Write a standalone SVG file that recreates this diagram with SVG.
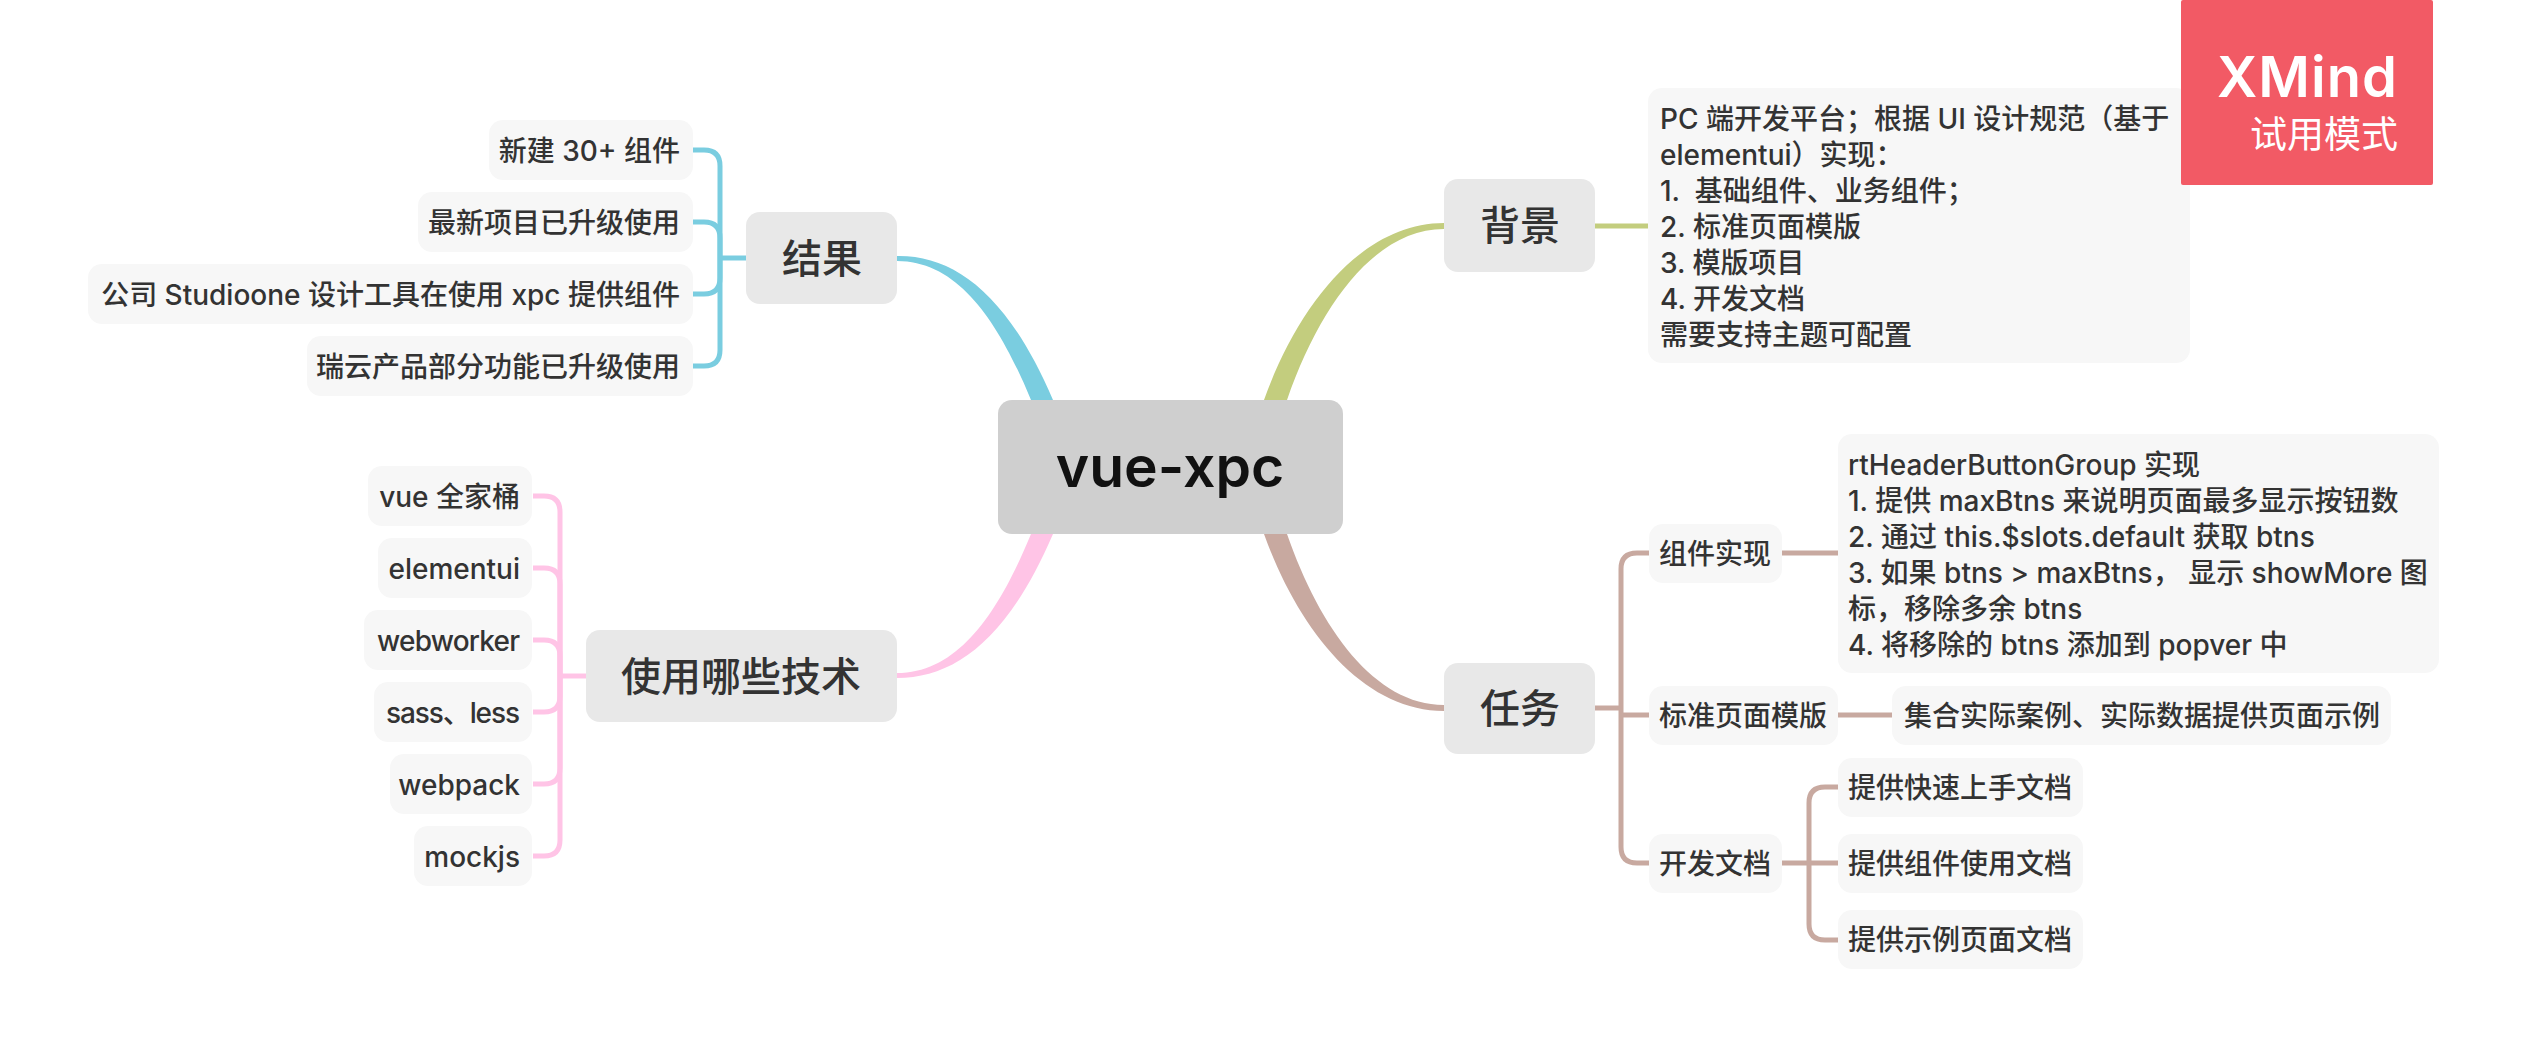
<svg xmlns="http://www.w3.org/2000/svg" width="2527" height="1057" viewBox="0 0 2527 1057">
<style>
text{font-family:"Inter","Noto Sans CJK SC",sans-serif;fill:#333;white-space:pre}
.s{font-size:28px;font-weight:500}
.m{font-size:40px;font-weight:500;text-anchor:middle}
.e{text-anchor:end}
.c{font-size:57px;font-weight:600;fill:#111;text-anchor:middle}
.bs{fill:#f7f7f7}
.bm{fill:#e8e8e8}
.l{fill:none;stroke-width:5}
.blue{stroke:#7acde0}.pink{stroke:#ffc4e6}.olive{stroke:#c3cd7e}.brown{stroke:#c8a9a0}
</style>
<g id="connectors">
<path fill="#7acde0" d="M897 256C955 255 1008 295 1053 400H1031C1000 325 960 261 897 261Z"/>
<path fill="#ffc4e6" d="M897 673C960 673 1000 609 1031 534H1053C1008 639 955 678 897 678Z"/>
<path fill="#c3cd7e" d="M1444 223C1365 223 1300 300 1264 400H1287C1320 305 1375 229 1444 229Z"/>
<path fill="#c8a9a0" d="M1444 711C1365 711 1300 634 1264 534H1287C1320 629 1375 705 1444 705Z"/>
<path class="l blue" stroke-width="6" d="M746 258H720"/>
<path class="l blue" d="M693 150H704Q720 150 720 166V350Q720 366 704 366H693"/>
<path class="l blue" d="M693 222H704Q720 222 720 238V278Q720 294 704 294H693"/>
<path class="l pink" d="M586 676H560"/>
<path class="l pink" d="M533 496H544Q560 496 560 512V840Q560 856 544 856H533"/>
<path class="l pink" d="M533 568H544Q560 568 560 584V768Q560 784 544 784H533"/>
<path class="l pink" d="M533 640H544Q560 640 560 656V696Q560 712 544 712H533"/>
<path class="l olive" stroke-width="6" d="M1595 226H1648"/>
<path class="l brown" d="M1595 708H1621"/>
<path class="l brown" d="M1649 553H1637Q1621 553 1621 569V847Q1621 863 1637 863H1649"/>
<path class="l brown" d="M1621 715H1649"/>
<path class="l brown" d="M1782 553H1838"/>
<path class="l brown" d="M1838 715H1892"/>
<path class="l brown" d="M1782 863H1838"/>
<path class="l brown" d="M1838 787H1825Q1809 787 1809 803V924Q1809 940 1825 940H1838"/>
</g>
<g id="center"><rect x="998" y="400" width="345" height="134" rx="14" fill="#cfcfcf"/><text class="c" x="1170" y="487">vue-xpc</text></g>
<g id="result"><rect class="bm" x="746" y="212" width="151" height="92" rx="14"/><text class="m" x="822" y="273">结果</text></g>
<g id="result-1"><rect class="bs" x="489" y="120" width="204" height="60" rx="14"/><text class="s e" x="680" y="161">新建 30+ 组件</text></g>
<g id="result-2"><rect class="bs" x="418" y="192" width="275" height="60" rx="14"/><text class="s e" x="680" y="233">最新项目已升级使用</text></g>
<g id="result-3"><rect class="bs" x="88" y="264" width="605" height="60" rx="14"/><text class="s e" x="680" y="305">公司 Studioone 设计工具在使用 xpc 提供组件</text></g>
<g id="result-4"><rect class="bs" x="307" y="336" width="386" height="60" rx="14"/><text class="s e" x="680" y="377">瑞云产品部分功能已升级使用</text></g>
<g id="tech"><rect class="bm" x="586" y="630" width="311" height="92" rx="14"/><text class="m" x="741" y="691">使用哪些技术</text></g>
<g id="tech-1"><rect class="bs" x="368" y="466" width="164" height="60" rx="14"/><text class="s e" x="520" y="507">vue 全家桶</text></g>
<g id="tech-2"><rect class="bs" x="378" y="538" width="154" height="60" rx="14"/><text class="s e" x="520" y="579">elementui</text></g>
<g id="tech-3"><rect class="bs" x="364" y="610" width="168" height="60" rx="14"/><text class="s e" x="520" y="651" textLength="143">webworker</text></g>
<g id="tech-4"><rect class="bs" x="374" y="682" width="158" height="60" rx="14"/><text class="s e" x="520" y="723" textLength="134">sass、less</text></g>
<g id="tech-5"><rect class="bs" x="390" y="754" width="142" height="60" rx="14"/><text class="s e" x="520" y="795">webpack</text></g>
<g id="tech-6"><rect class="bs" x="414" y="826" width="118" height="60" rx="14"/><text class="s e" x="520" y="867">mockjs</text></g>
<g id="background"><rect class="bm" x="1444" y="179" width="151" height="93" rx="14"/><text class="m" x="1520" y="240">背景</text></g>
<g id="background-note"><rect class="bs" x="1648" y="88" width="542" height="275" rx="14"/>
<text class="s" x="1660" y="129">PC 端开发平台；根据 UI 设计规范（基于</text>
<text class="s" x="1660" y="165">elementui）实现：</text>
<text class="s" x="1660" y="201">1.  基础组件、业务组件；</text>
<text class="s" x="1660" y="237">2. 标准页面模版</text>
<text class="s" x="1660" y="273">3. 模版项目</text>
<text class="s" x="1660" y="309">4. 开发文档</text>
<text class="s" x="1660" y="345">需要支持主题可配置</text></g>
<g id="task"><rect class="bm" x="1444" y="663" width="151" height="91" rx="14"/><text class="m" x="1520" y="723">任务</text></g>
<g id="task-1"><rect class="bs" x="1649" y="524" width="133" height="59" rx="14"/><text class="s" x="1659" y="564">组件实现</text></g>
<g id="task-1-note"><rect class="bs" x="1838" y="434" width="601" height="239" rx="14"/>
<text class="s" x="1848" y="475">rtHeaderButtonGroup 实现</text>
<text class="s" x="1848" y="511">1. 提供 maxBtns 来说明页面最多显示按钮数</text>
<text class="s" x="1848" y="547">2. 通过 this.$slots.default 获取 btns</text>
<text class="s" x="1848" y="583">3. 如果 btns &gt; maxBtns， 显示 showMore 图</text>
<text class="s" x="1848" y="619">标，移除多余 btns</text>
<text class="s" x="1848" y="655">4. 将移除的 btns 添加到 popver 中</text></g>
<g id="task-2"><rect class="bs" x="1649" y="686" width="189" height="59" rx="14"/><text class="s" x="1659" y="726">标准页面模版</text></g>
<g id="task-2-1"><rect class="bs" x="1892" y="686" width="499" height="59" rx="14"/><text class="s" x="1904" y="726">集合实际案例、实际数据提供页面示例</text></g>
<g id="task-3"><rect class="bs" x="1649" y="834" width="133" height="59" rx="14"/><text class="s" x="1659" y="874">开发文档</text></g>
<g id="task-3-1"><rect class="bs" x="1838" y="758" width="245" height="59" rx="14"/><text class="s" x="1848" y="798">提供快速上手文档</text></g>
<g id="task-3-2"><rect class="bs" x="1838" y="834" width="245" height="59" rx="14"/><text class="s" x="1848" y="874">提供组件使用文档</text></g>
<g id="task-3-3"><rect class="bs" x="1838" y="910" width="245" height="59" rx="14"/><text class="s" x="1848" y="950">提供示例页面文档</text></g>
<g id="xmind-badge"><rect x="2181" y="0" width="252" height="185" rx="2" fill="#f25a65"/>
<text x="2217" y="97" font-size="56" font-weight="600" textLength="180" style="fill:#fff">XMind</text>
<text x="2398" y="148" text-anchor="end" font-size="37" style="fill:#fff">试用模式</text></g>
</svg>
